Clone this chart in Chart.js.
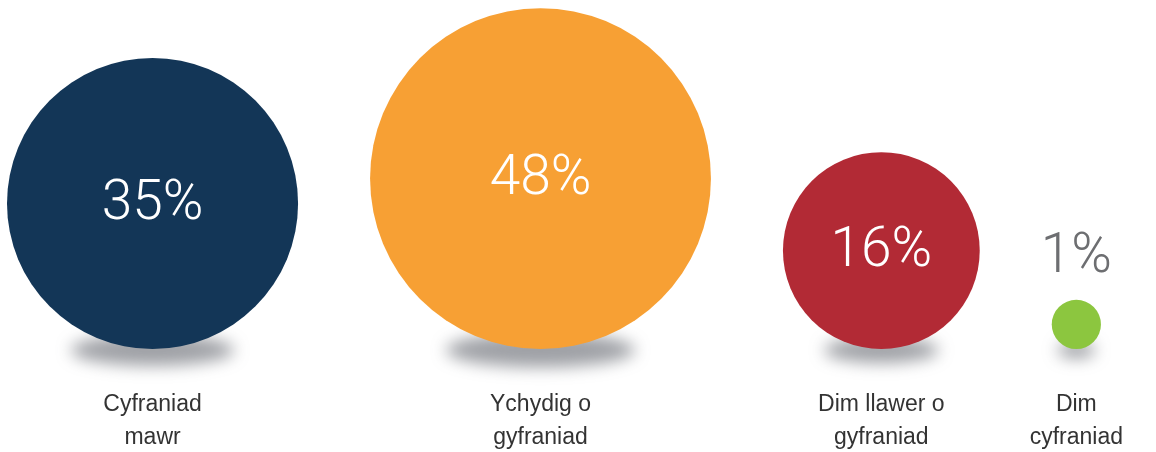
<!DOCTYPE html>
<html lang="cy">
<head>
  <meta charset="UTF-8" />
  <title>Cyfraniad</title>
  <script src="https://cdn.jsdelivr.net/npm/chart.js@4.4.1/dist/chart.umd.min.js"></script>
  <style>
    body {
      margin: 0;
      background: #fff;
    }
    .chart-box {
      width: 1156px;
      height: 452px;
      position: relative;
    }
  </style>
</head>
<body>
  <div class="chart-box">
    <canvas id="bubbleChart"></canvas>
  </div>

  <script>
    // data
    const categories = [
      ['Cyfraniad', 'mawr'],
      ['Ychydig o', 'gyfraniad'],
      ['Dim llawer o', 'gyfraniad'],
      ['Dim', 'cyfraniad']
    ];
    const shares = [35, 48, 16, 1];
    const colours = ['#133657', '#f7a034', '#b22a35', '#8cc63f'];

    // layout: bubble area ~ value, all sitting on one baseline
    const W = 1156, H = 452;
    const sizeK = 24.6;      // px of radius per sqrt(percent)
    const gap = 72;          // space between neighbouring bubbles
    const leftMargin = 7;
    const baseline = 103;    // bottom of bubbles, from foot of canvas

    const radii = shares.map(v => sizeK * Math.sqrt(v));
    const points = [];
    let cursor = leftMargin;
    radii.forEach((r, i) => {
      const x = cursor + r;
      points.push({ x: x, y: baseline + r, r: r });
      cursor = x + r + gap;
    });

    // soft grey shadow under every bubble
    const shadowPlugin = {
      id: 'shadows',
      beforeDatasetsDraw(chart) {
        const ctx = chart.ctx;
        const meta = chart.getDatasetMeta(0);
        ctx.save();
        ctx.filter = 'blur(8px)';
        ctx.fillStyle = 'rgba(80, 83, 92, 0.55)';
        meta.data.forEach(el => {
          const r = el.options.radius;
          ctx.beginPath();
          ctx.ellipse(el.x, el.y + r + 1, r * 0.52 + 6, 7 + r * 0.06, 0, 0, Math.PI * 2);
          ctx.fill();
        });
        ctx.restore();
      }
    };

    // percentages and category names
    const textPlugin = {
      id: 'texts',
      afterDatasetsDraw(chart) {
        const ctx = chart.ctx;
        const meta = chart.getDatasetMeta(0);
        ctx.save();
        ctx.textAlign = 'center';
        ctx.textBaseline = 'middle';
        meta.data.forEach((el, i) => {
          const r = el.options.radius;
          ctx.font = '300 55px Roboto, "Liberation Sans", sans-serif';
          if (r > 40) {
            ctx.fillStyle = '#ffffff';
            ctx.fillText(shares[i] + '%', el.x, el.y + 2);
          } else {
            ctx.fillStyle = '#6d6e71';
            ctx.fillText(shares[i] + '%', el.x, el.y - r - 42);
          }
          ctx.font = '23px "Liberation Sans", Arial, sans-serif';
          ctx.fillStyle = '#333333';
          const bottom = chart.scales.y.getPixelForValue(baseline);
          categories[i].forEach((line, j) => {
            ctx.fillText(line, el.x, bottom + 56 + j * 33);
          });
        });
        ctx.restore();
      }
    };

    const ctx = document.getElementById('bubbleChart').getContext('2d');
    new Chart(ctx, {
      type: 'bubble',
      data: {
        datasets: [{
          data: points,
          backgroundColor: colours,
          hoverBackgroundColor: colours,
          borderWidth: 0,
          hoverBorderWidth: 0,
          hoverRadius: 0,
          clip: false
        }]
      },
      options: {
        responsive: true,
        maintainAspectRatio: false,
        animation: false,
        layout: { padding: 0, autoPadding: false },
        scales: {
          x: { type: 'linear', min: 0, max: W, display: false },
          y: { type: 'linear', min: 0, max: H, display: false }
        },
        plugins: {
          legend: { display: false },
          tooltip: { enabled: false }
        }
      },
      plugins: [shadowPlugin, textPlugin]
    });
  </script>
</body>
</html>
